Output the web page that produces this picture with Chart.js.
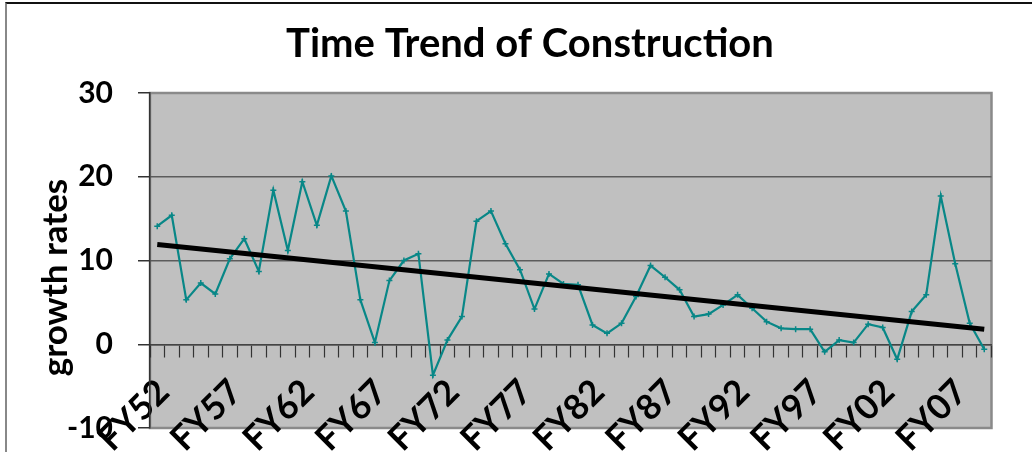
<!DOCTYPE html>
<html>
<head>
<meta charset="utf-8">
<script src="https://cdn.jsdelivr.net/npm/chart.js@4"></script>
<style>
  html, body { margin: 0; padding: 0; background: #fff; overflow: hidden; }
  #wrap { position: relative; width: 1032px; height: 500px; }
  #frame { position: absolute; left: 5px; top: 2px; right: 0; bottom: 0; border-top: 2px solid #111; border-left: 2px solid #888; pointer-events: none; }
</style>
</head>
<body>
<div id="wrap">
  <canvas id="chart" width="997" height="500"></canvas>
  <div id="frame"></div>
</div>
<script>
const categories = ["FY52","FY53","FY54","FY55","FY56","FY57","FY58","FY59","FY60","FY61",
  "FY62","FY63","FY64","FY65","FY66","FY67","FY68","FY69","FY70","FY71",
  "FY72","FY73","FY74","FY75","FY76","FY77","FY78","FY79","FY80","FY81",
  "FY82","FY83","FY84","FY85","FY86","FY87","FY88","FY89","FY90","FY91",
  "FY92","FY93","FY94","FY95","FY96","FY97","FY98","FY99","FY00","FY01",
  "FY02","FY03","FY04","FY05","FY06","FY07","FY08","FY09"];

// construction growth rates (%)
const growth = [14.1, 15.4, 5.3, 7.3, 6.0, 10.2, 12.6, 8.7, 18.4, 11.2,
  19.4, 14.2, 20.1, 15.9, 5.3, 0.2, 7.6, 10.0, 10.8, -3.7,
  0.5, 3.3, 14.7, 15.9, 12.0, 8.9, 4.2, 8.4, 7.2, 7.1,
  2.3, 1.3, 2.5, 5.7, 9.4, 8.0, 6.5, 3.3, 3.6, 4.7,
  5.9, 4.3, 2.7, 1.9, 1.8, 1.8, -0.9, 0.5, 0.2, 2.4,
  2.0, -1.8, 3.9, 5.9, 17.7, 9.6, 2.5, -0.6];

// linear trend, start and end values
const trendStart = 11.9;
const trendEnd = 1.8;

const yTicks = [-10, 0, 10, 20, 30];
const labelEvery = 5;

const FONT = "Lato, 'Open Sans', sans-serif";

const trend = categories.map((c, i) => i === 0 ? trendStart : (i === categories.length - 1 ? trendEnd : null));

const plotBg = {
  id: 'plotBg',
  beforeDraw(chart) {
    const { ctx, chartArea: a } = chart;
    ctx.save();
    ctx.fillStyle = '#c0c0c0';
    ctx.fillRect(a.left, a.top, a.right - a.left, a.bottom - a.top);
    ctx.strokeStyle = '#8a8a8a';
    ctx.lineWidth = 2.5;
    ctx.strokeRect(a.left, a.top, a.right - a.left, a.bottom - a.top);
    ctx.restore();
  }
};

new Chart(document.getElementById('chart'), {
  type: 'line',
  data: {
    labels: categories,
    datasets: [
      {
        label: 'Trend',
        data: trend,
        spanGaps: true,
        borderColor: '#000',
        borderWidth: 5,
        pointRadius: 0,
        order: 0
      },
      {
        label: 'Construction',
        data: growth,
        borderColor: '#088787',
        borderWidth: 2.2,
        pointStyle: 'cross',
        pointRadius: 3,
        pointBorderWidth: 1.5,
        pointBorderColor: '#088787',
        tension: 0,
        order: 1
      }
    ]
  },
  options: {
    responsive: false,
    animation: false,
    layout: { padding: { left: 63, right: 0, top: 0, bottom: 72 } },
    plugins: {
      legend: { display: false },
      tooltip: { enabled: false },
      title: {
        display: true,
        text: 'Time Trend of Construction',
        color: '#000',
        font: { family: FONT, size: 40, weight: 'bold', lineHeight: 1.2 },
        padding: { top: 20, bottom: 25 }
      }
    },
    scales: {
      x: {
        type: 'category',
        offset: true,
        display: false
      },
      x2: {
        type: 'category',
        labels: categories,
        position: { y: 0 },
        offset: true,
        grid: { offset: true, drawOnChartArea: false, drawTicks: true, tickLength: 12, tickWidth: 1.2, tickColor: '#333' },
        border: { display: true, color: '#444', width: 1.5 },
        ticks: {
          autoSkip: false,
          maxRotation: 45,
          minRotation: 45,
          padding: 15,
          labelOffset: 6,
          color: '#000',
          font: { family: FONT, size: 35, weight: 'bold' },
          callback: function (v, i) { return i % labelEvery === 0 ? categories[i] : ''; }
        },
        afterFit: (s) => { s.paddingLeft = 0; s.paddingRight = 0; }
      },
      y: {
        min: -10,
        max: 30,
        afterBuildTicks: (s) => { s.ticks = yTicks.map(v => ({ value: v })); },
        grid: {
          color: (c) => (c.tick && (c.tick.value === -10 || c.tick.value === 30)) ? '#8a8a8a' : '#5c5c5c',
          lineWidth: 1.5,
          tickLength: 12,
          tickColor: '#333'
        },
        border: { display: true, color: '#333', width: 1.5 },
        ticks: {
          padding: 25,
          color: '#000',
          font: { family: FONT, size: 30, weight: 'bold' }
        },
        title: {
          display: true,
          text: 'growth rates    ',
          color: '#000',
          font: { family: FONT, size: 35, weight: 'bold', lineHeight: 1.2 },
          padding: { top: -28, bottom: 0 }
        },
        afterFit: (s) => { s.width = 87; }
      }
    }
  },
  plugins: [plotBg]
});
</script>
</body>
</html>
